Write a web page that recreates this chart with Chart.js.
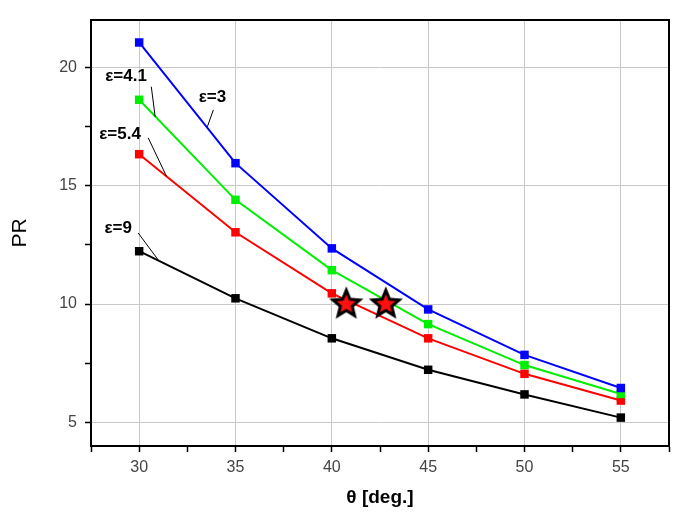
<!DOCTYPE html>
<html>
<head>
<meta charset="utf-8">
<script src="https://cdn.jsdelivr.net/npm/chart.js@4"></script>
<style>
  html, body { margin: 0; padding: 0; background: #fff; }
  #wrap { width: 683px; height: 524px; }
</style>
</head>
<body>
<div id="wrap"><canvas id="c"></canvas></div>
<script>
// data
const theta = [30, 35, 40, 45, 50, 55];
const prEps3 = [21.05, 15.95, 12.35, 9.77, 7.85, 6.45];
const prEps41 = [18.63, 14.40, 11.43, 9.15, 7.42, 6.20];
const prEps54 = [16.33, 13.03, 10.45, 8.55, 7.05, 5.92];
const prEps9 = [12.23, 10.24, 8.55, 7.22, 6.18, 5.20];
const starTheta = [40.75, 42.8];
const starPR = [10.03, 10.03];

const xTicks = [27.5, 30, 32.5, 35, 37.5, 40, 42.5, 45, 47.5, 50, 52.5, 55, 57.5];
const yTicks = [5, 7.5, 10, 12.5, 15, 17.5, 20];

// curve labels: text, text anchor, leader line start/end (data units)
const curveLabels = [
  { text: 'ε=3', at: [33.8, 18.72], from: [33.85, 18.2], to: [33.54, 17.49] },
  { text: 'ε=4.1', at: [29.32, 19.61], from: [30.63, 19.18], to: [30.83, 17.91] },
  { text: 'ε=5.4', at: [29.01, 17.15], from: [30.47, 17.02], to: [31.41, 15.41] },
  { text: 'ε=9', at: [28.91, 13.21], from: [29.95, 13.0], to: [30.99, 11.86] }
];

const pts = (ys) => theta.map((t, i) => ({ x: t, y: ys[i] }));

// filled star marker
const star = document.createElement('canvas');
star.width = 40; star.height = 40;
(function () {
  const g = star.getContext('2d');
  const path = (R, r) => {
    g.beginPath();
    for (let i = 0; i < 10; i++) {
      const rad = i % 2 ? r : R;
      const a = -Math.PI / 2 + i * Math.PI / 5;
      const px = 20 + rad * Math.cos(a), py = 21 + rad * Math.sin(a);
      i ? g.lineTo(px, py) : g.moveTo(px, py);
    }
    g.closePath();
  };
  path(18, 8);
  g.fillStyle = '#000';
  g.fill();
  path(10, 4.5);
  g.fillStyle = '#ff1010';
  g.fill();
})();

const line = (label, ys, color) => ({
  label: label,
  data: pts(ys),
  borderColor: color,
  backgroundColor: color,
  borderWidth: 2,
  pointStyle: 'rect',
  pointRadius: 6,
  pointBorderWidth: 0,
  tension: 0
});

const labelPlugin = {
  id: 'curveLabels',
  afterDatasetsDraw(chart) {
    const { ctx, chartArea: a, scales: { x, y } } = chart;
    ctx.save();
    ctx.font = 'bold 17px Arial, "Liberation Sans"';
    ctx.fillStyle = '#000';
    ctx.strokeStyle = '#000';
    ctx.lineWidth = 1;
    ctx.textAlign = 'center';
    ctx.textBaseline = 'middle';
    curveLabels.forEach(l => {
      ctx.fillText(l.text, x.getPixelForValue(l.at[0]), y.getPixelForValue(l.at[1]));
      ctx.beginPath();
      ctx.moveTo(x.getPixelForValue(l.from[0]), y.getPixelForValue(l.from[1]));
      ctx.lineTo(x.getPixelForValue(l.to[0]), y.getPixelForValue(l.to[1]));
      ctx.stroke();
    });
    // frame
    ctx.lineWidth = 2;
    ctx.strokeRect(a.left, a.top, a.right - a.left, a.bottom - a.top);
    ctx.restore();
  }
};

const isMajor = (v) => Math.abs(v % 5) < 1e-6;

new Chart(document.getElementById('c'), {
  type: 'line',
  data: {
    datasets: [
      {
        label: 'stars',
        data: starTheta.map((t, i) => ({ x: t, y: starPR[i] })),
        showLine: false,
        pointStyle: star,
        pointRadius: 20,
        order: -1
      },
      line('ε=3', prEps3, '#0000ff'),
      line('ε=4.1', prEps41, '#00ee00'),
      line('ε=5.4', prEps54, '#ff0000'),
      line('ε=9', prEps9, '#000000')
    ]
  },
  options: {
    responsive: true,
    maintainAspectRatio: false,
    animation: false,
    layout: { autoPadding: false, padding: { top: 20, right: 14, left: 0, bottom: 0 } },
    plugins: {
      legend: { display: false },
      tooltip: { enabled: false }
    },
    scales: {
      x: {
        type: 'linear',
        min: 27.5,
        max: 57.5,
        afterBuildTicks: (s) => { s.ticks = xTicks.map(v => ({ value: v })); },
        afterFit: (s) => { s.height = 78; s.paddingLeft = 0; s.paddingRight = 0; },
        ticks: {
          autoSkip: false,
          maxRotation: 0,
          padding: 6,
          color: '#444',
          font: { family: 'Arial, "Liberation Sans"', size: 16 },
          callback: (v) => isMajor(v) && v > 27.5 && v < 57.5 ? String(v) : ''
        },
        grid: {
          color: (c) => c.tick && isMajor(c.tick.value) ? '#c8c8c8' : 'rgba(0,0,0,0)',
          tickColor: '#000',
          tickLength: 6,
          tickWidth: 1.5
        },
        border: { color: '#000', width: 2 },
        title: {
          display: true,
          text: 'θ [deg.]',
          color: '#000',
          font: { family: 'Arial, "Liberation Sans"', size: 19, weight: 'bold' },
          padding: { top: 4, bottom: 15 }
        }
      },
      y: {
        min: 4,
        max: 22,
        afterBuildTicks: (s) => { s.ticks = yTicks.map(v => ({ value: v })); },
        afterFit: (s) => { s.width = 91; },
        ticks: {
          padding: 8,
          color: '#444',
          font: { family: 'Arial, "Liberation Sans"', size: 16 },
          callback: (v) => isMajor(v) ? String(v) : ''
        },
        grid: {
          color: (c) => c.tick && isMajor(c.tick.value) ? '#c8c8c8' : 'rgba(0,0,0,0)',
          tickColor: '#000',
          tickLength: 6,
          tickWidth: 1.5
        },
        border: { color: '#000', width: 2 },
        title: {
          display: true,
          text: 'PR',
          color: '#000',
          font: { family: 'Arial, "Liberation Sans"', size: 21 },
          padding: { bottom: 4, top: 8 }
        }
      }
    }
  },
  plugins: [labelPlugin]
});
</script>
</body>
</html>
